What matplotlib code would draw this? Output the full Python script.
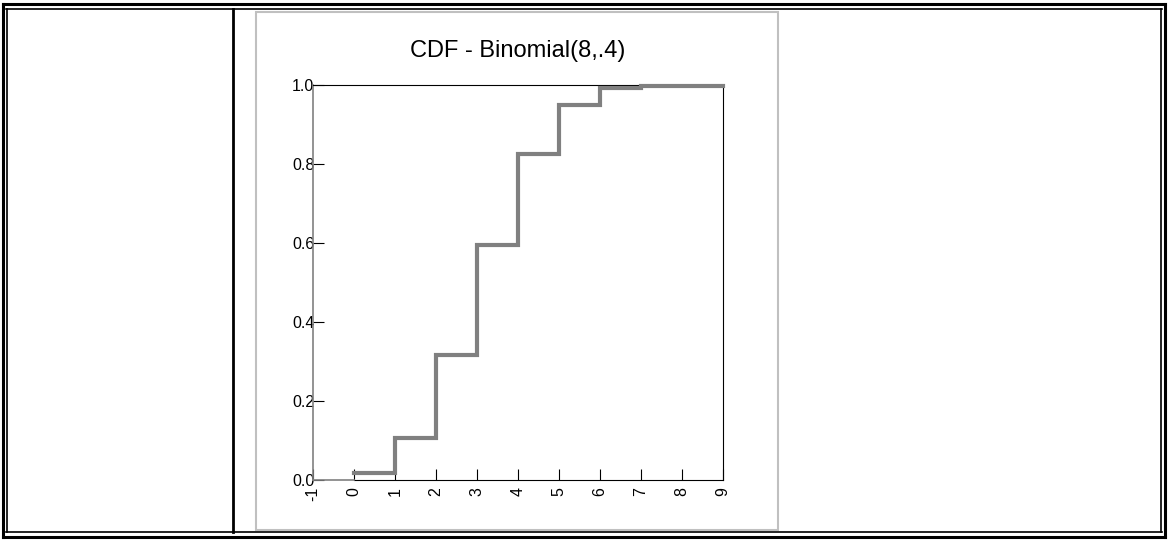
import matplotlib
matplotlib.use("Agg")
import matplotlib.pyplot as plt
from matplotlib.patches import Rectangle
from matplotlib.lines import Line2D

plt.rcParams['font.family'] = ['Liberation Sans', 'DejaVu Sans']

title = "CDF - Binomial(8,.4)"
k_values = [0, 1, 2, 3, 4, 5, 6, 7, 8, 9]
cdf_values = [0.0168, 0.1064, 0.3154, 0.5941, 0.8263, 0.9502, 0.9915, 0.9965, 0.9965, 0.9965]
x_ticks = [-1, 0, 1, 2, 3, 4, 5, 6, 7, 8, 9]
y_ticks = [0.0, 0.2, 0.4, 0.6, 0.8, 1.0]

W, H = 1168, 540
fig = plt.figure(figsize=(W / 100, H / 100), dpi=100)

def fx(p): return p / W
def fy(p): return 1 - p / H

for (x0, y0, x1, y1, lw, c) in [
    (3, 4, 1165, 4, 2.2, 'black'), (6, 9, 1162, 9, 1.2, 'black'),
    (3, 537, 1165, 537, 2.2, 'black'), (6, 532, 1162, 532, 1.2, 'black'),
    (3, 4, 3, 537, 2.2, 'black'), (7, 9, 7, 532, 1.2, 'black'),
    (1165, 4, 1165, 537, 2.2, 'black'), (1161, 9, 1161, 532, 1.2, 'black'),
    (233, 9, 233, 532, 2.0, 'black'),
]:
    fig.add_artist(Line2D([fx(x0), fx(x1)], [fy(y0), fy(y1)], lw=lw, color=c))
fig.add_artist(Rectangle((fx(256), fy(530)), fx(778) - fx(256), fy(12) - fy(530),
                         fill=False, ec='#c0c0c0', lw=1.5))

ax = fig.add_axes([fx(313), fy(480), fx(723) - fx(313), fy(85) - fy(480)])
ax.set_xlim(-1, 9)
ax.set_ylim(0, 1.0)
ax.step(k_values, cdf_values, where='post', color='#808080', lw=3,
        solid_joinstyle='miter', zorder=3, clip_on=False)
ax.plot([-1, 0], [0, 0], color='#808080', lw=1.2, zorder=3, clip_on=False)
for s in ['top', 'right', 'bottom']:
    ax.spines[s].set_color('black')
    ax.spines[s].set_linewidth(0.8)
ax.spines['bottom'].set_bounds(0, 9)
ax.spines['left'].set_color('#808080')
ax.spines['left'].set_linewidth(1.2)
ax.set_xticks(x_ticks)
ax.set_xticklabels([str(t) for t in x_ticks], rotation=90, fontsize=11.5)
ax.set_yticks(y_ticks)
ax.set_yticklabels([f"{t:.1f}" for t in y_ticks], fontsize=11.5)
ax.tick_params(direction='in', length=8, width=0.8, color='black')
ax.tick_params(axis='x', pad=5)
ax.tick_params(axis='y', pad=-1)
ax.set_title(title, fontsize=17, pad=20)

fig.savefig("out.png", dpi=100)
